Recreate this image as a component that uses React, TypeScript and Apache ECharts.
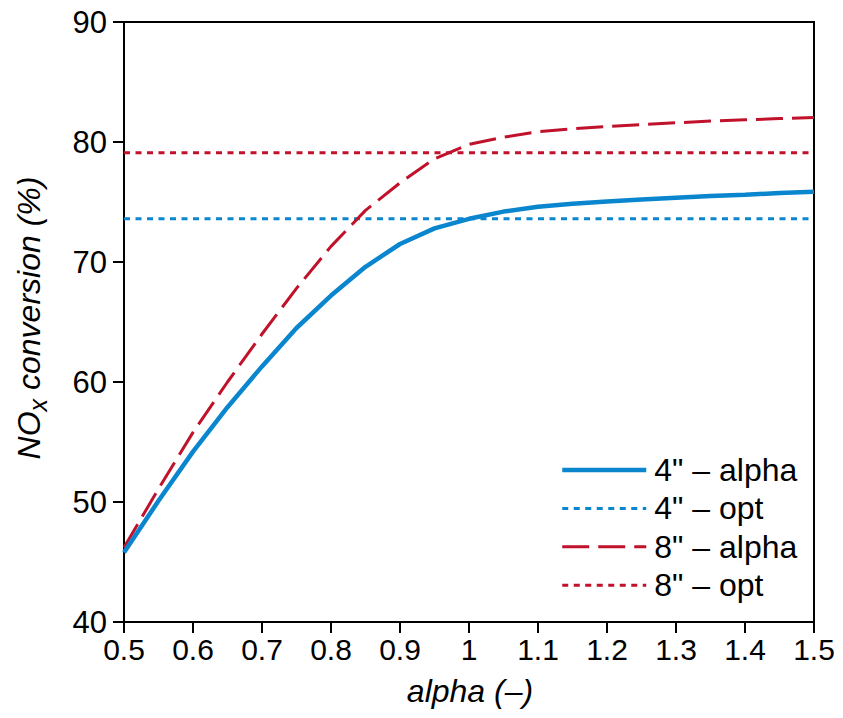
import React, { useEffect, useRef } from "react";
import * as echarts from "echarts";

const alpha = [0.5, 0.55, 0.6, 0.65, 0.7, 0.75, 0.8, 0.85, 0.9, 0.95, 1.0, 1.05, 1.1, 1.15, 1.2, 1.25, 1.3, 1.35, 1.4, 1.45, 1.5];
const conv4Alpha = [45.8, 50.1, 54.2, 57.9, 61.3, 64.5, 67.2, 69.6, 71.5, 72.8, 73.6, 74.2, 74.6, 74.85, 75.05, 75.2, 75.35, 75.5, 75.6, 75.75, 75.85];
const conv8Alpha = [46.2, 51.1, 55.8, 60.0, 64.0, 67.8, 71.3, 74.3, 76.6, 78.6, 79.8, 80.4, 80.85, 81.1, 81.3, 81.45, 81.6, 81.75, 81.85, 81.95, 82.05];
const optRange = [0.5, 1.5];
const conv4Opt = 73.6;
const conv8Opt = 79.1;
const seriesNames = ['4" \u2013 alpha', '4" \u2013 opt', '8" \u2013 alpha', '8" \u2013 opt'];

const BLUE = "#0a86cf";
const RED = "#c0122a";
const FONT = "'Liberation Sans', Arial, Helvetica, sans-serif";

export default function App() {
  const ref = useRef<HTMLDivElement>(null);
  useEffect(() => {
    if (!ref.current) return;
    const chart = echarts.init(ref.current, undefined, { renderer: "svg" });
    const pair = (xs: number[], ys: number[]) => xs.map((x, i) => [x, ys[i]]);
    const styles = [
      { color: BLUE, width: 4.5, type: "solid" as any },
      { color: BLUE, width: 3, type: [6, 5.5] as any },
      { color: RED, width: 3, type: [27, 9] as any },
      { color: RED, width: 3, type: [6, 5.5] as any },
    ];
    chart.setOption({
      animation: false,
      backgroundColor: "#fff",
      textStyle: { fontFamily: FONT },
      grid: {
        left: 124, top: 22, right: 29, bottom: 96,
        show: true, borderColor: "#000", borderWidth: 2, backgroundColor: "transparent",
      },
      xAxis: {
        type: "value", min: 0.5, max: 1.5, interval: 0.1,
        axisLine: { show: true, lineStyle: { color: "#000", width: 2 } },
        axisTick: { show: true, length: 11, lineStyle: { color: "#000", width: 2 } },
        axisLabel: {
          color: "#000", fontSize: 30, fontFamily: FONT, margin: 12,
          formatter: (v: number) => String(Number(v.toFixed(1))),
        },
        splitLine: { show: false },
      },
      yAxis: {
        type: "value", min: 40, max: 90, interval: 10,
        axisLine: { show: true, lineStyle: { color: "#000", width: 2 } },
        axisTick: { show: true, length: 11, lineStyle: { color: "#000", width: 2 } },
        axisLabel: { color: "#000", fontSize: 31, fontFamily: FONT, margin: 17 },
        splitLine: { show: false },
      },
      legend: {
        orient: "vertical", left: 555, top: 449, itemWidth: 84, itemHeight: 20, itemGap: 6.4,
        itemStyle: { opacity: 0, borderWidth: 0 },
        textStyle: { fontSize: 32, color: "#000", fontFamily: FONT, lineHeight: 30, padding: [0, 0, 0, 3] },
        data: seriesNames.map((name, i) => ({
          name,
          itemStyle: { opacity: 0, borderWidth: 0 },
          lineStyle: { ...styles[i] },
        })),
      },
      series: seriesNames.map((name, i) => ({
        name,
        type: "line",
        data: i === 0 ? pair(alpha, conv4Alpha)
          : i === 1 ? optRange.map((x) => [x, conv4Opt])
          : i === 2 ? pair(alpha, conv8Alpha)
          : optRange.map((x) => [x, conv8Opt]),
        symbol: "none",
        showSymbol: false,
        lineStyle: styles[i],
        itemStyle: { color: styles[i].color },
        z: i === 0 ? 5 : i === 2 ? 4 : 3,
      })),
      graphic: [
        {
          type: "text", x: 470, y: 691,
          style: {
            text: "alpha (\u2013)", fontSize: 32, fontStyle: "italic", fontFamily: FONT, fill: "#000",
            align: "center", verticalAlign: "middle",
          },
        },
        {
          type: "text", x: 29, y: 318, rotation: Math.PI / 2,
          style: {
            text: "{a|NO}{b|x}{a| conversion (%)}",
            align: "center", verticalAlign: "middle", fill: "#000",
            rich: {
              a: { fontSize: 32, fontStyle: "italic", fontFamily: FONT, lineHeight: 42, fill: "#000" },
              b: { fontSize: 25, fontStyle: "italic", fontFamily: FONT, lineHeight: 22, verticalAlign: "bottom", fill: "#000" },
            },
          },
        },
      ],
    });
    return () => chart.dispose();
  }, []);
  return <div ref={ref} style={{ width: 843, height: 718, margin: -8 }} />;
}
